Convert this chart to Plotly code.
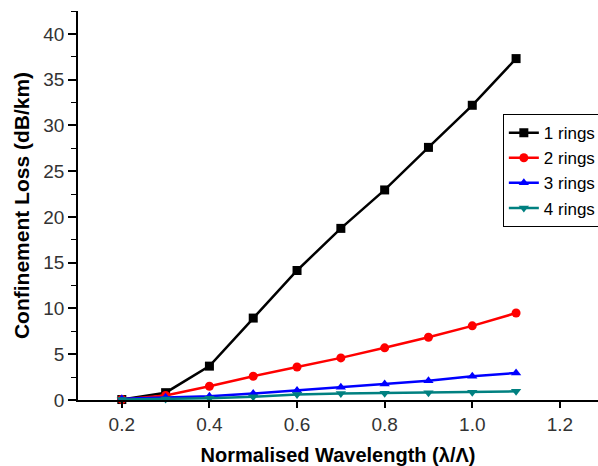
import plotly.graph_objects as go

# Normalised wavelength (lambda / Lambda)
wavelength = [0.2, 0.3, 0.4, 0.5, 0.6, 0.7, 0.8, 0.9, 1.0, 1.1]

# Confinement loss (dB/km) for each number of air-hole rings
loss_1_ring = [0.05, 0.8, 3.7, 8.95, 14.15, 18.75, 22.95, 27.6, 32.2, 37.3]
loss_2_rings = [0.05, 0.5, 1.5, 2.6, 3.6, 4.6, 5.7, 6.85, 8.1, 9.5]
loss_3_rings = [0.15, 0.3, 0.4, 0.7, 1.05, 1.4, 1.75, 2.1, 2.6, 2.95]
loss_4_rings = [0.05, 0.1, 0.2, 0.35, 0.6, 0.7, 0.75, 0.8, 0.85, 0.95]

series = [
    ("1 rings", loss_1_ring, "#000000", "square"),
    ("2 rings", loss_2_rings, "#ff0000", "circle"),
    ("3 rings", loss_3_rings, "#0000ff", "triangle-up"),
    ("4 rings", loss_4_rings, "#008080", "triangle-down"),
]

x_ticks = [0.2, 0.4, 0.6, 0.8, 1.0, 1.2]
y_ticks = [0, 5, 10, 15, 20, 25, 30, 35, 40]

font_family = "Liberation Sans, Arial, sans-serif"

fig = go.Figure()
for name, values, color, symbol in series:
    fig.add_trace(go.Scatter(
        x=wavelength,
        y=values,
        name=name,
        mode="lines+markers",
        line=dict(color=color, width=2.5),
        marker=dict(color=color, symbol=symbol, size=9),
        cliponaxis=False,
    ))

fig.update_layout(
    width=598,
    height=466,
    margin=dict(l=78, r=0, t=11, b=66, autoexpand=False),
    paper_bgcolor="white",
    plot_bgcolor="white",
    font=dict(family=font_family, color="#222222", size=19),
    showlegend=True,
    legend=dict(
        x=0.817,
        y=0.735,
        xanchor="left",
        yanchor="top",
        bgcolor="white",
        bordercolor="#000000",
        borderwidth=1,
        font=dict(family=font_family, size=17, color="#000000"),
        tracegroupgap=0,
        itemwidth=30,
    ),
)

fig.update_xaxes(
    range=[0.1, 1.287],
    tickvals=x_ticks,
    ticktext=[f"{v:.1f}" for v in x_ticks],
    showline=True,
    linecolor="#000000",
    linewidth=1.5,
    ticks="outside",
    ticklen=6,
    tickwidth=1.5,
    tickcolor="#000000",
    showgrid=False,
    zeroline=False,
    tickfont=dict(size=19, color="#333333"),
    title=dict(
        text="<b>Normalised Wavelength (λ/Λ)</b>",
        font=dict(size=20, color="#000000"),
        standoff=14,
    ),
)

fig.update_yaxes(
    range=[0, 42.5],
    tickvals=y_ticks,
    showline=True,
    linecolor="#000000",
    linewidth=1.5,
    ticks="outside",
    ticklen=8,
    tickwidth=1.5,
    tickcolor="#000000",
    minor=dict(dtick=2.5, tick0=0, ticks="outside", ticklen=5, tickwidth=1, tickcolor="#000000"),
    showgrid=False,
    zeroline=False,
    tickfont=dict(size=19, color="#333333"),
    title=dict(
        text="<b>Confinement Loss (dB/km)</b>",
        font=dict(size=21, color="#000000"),
        standoff=8,
    ),
)

fig.write_html("out.html")
